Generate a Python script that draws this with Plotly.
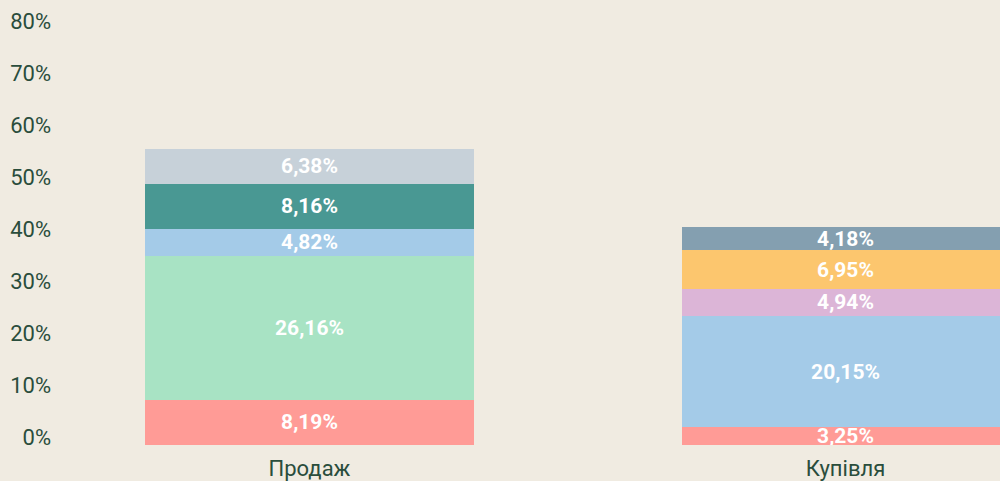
import plotly.graph_objects as go

# categories and stacked segment values (percent)
categories = ["Продаж", "Купівля"]
seg_1 = [8.19, 3.25]
seg_2 = [26.16, None]
seg_3 = [4.82, 20.15]
seg_4 = [8.16, None]
seg_5 = [6.38, None]
seg_6 = [None, 4.94]
seg_7 = [None, 6.95]
seg_8 = [None, 4.18]

tick_vals = [0, 10, 20, 30, 40, 50, 60, 70, 80]
tick_text = ["0%", "10%", "20%", "30%", "40%", "50%", "60%", "70%", "80%"]

series = [
    (seg_1, "#FF9B96"),
    (seg_2, "#A8E3C4"),
    (seg_3, "#A4CBE8"),
    (seg_4, "#499893"),
    (seg_5, "#C7D1D9"),
    (seg_6, "#DCB5D7"),
    (seg_7, "#FCC66E"),
    (seg_8, "#849FB0"),
]

BG = "#F0EBE1"
TXT = "#2A4D3C"
FONT = "Roboto"

fig = go.Figure()
for vals, color in series:
    fig.add_trace(go.Bar(
        x=categories, y=vals,
        width=0.612,
        marker=dict(color=color, line=dict(width=0)),
        texttemplate="%{y:.2f}%",
        textposition="inside",
        insidetextanchor="middle",
        textangle=0,
        constraintext="none",
        textfont=dict(family=FONT, size=21, color="white", weight="bold"),
        cliponaxis=True,
        showlegend=False,
    ))

# invisible trace to keep the label axis alive
fig.add_trace(go.Scatter(x=[categories[0]], y=[0], yaxis="y2",
                         mode="markers", marker=dict(opacity=0),
                         showlegend=False, hoverinfo="skip"))

fig.update_layout(
    width=1000, height=481,
    barmode="stack",
    separators=",.",
    paper_bgcolor=BG, plot_bgcolor=BG,
    margin=dict(l=52, r=0, t=5, b=36),
    font=dict(family=FONT, size=22, color=TXT),
    xaxis=dict(range=[-0.4804, 1.2882], showgrid=False, zeroline=False,
               showline=False, ticks="", ticklabelstandoff=8,
               tickfont=dict(size=22, color=TXT)),
    yaxis=dict(range=[0, 79.78], showgrid=False, zeroline=False,
               showticklabels=False, showline=False, ticks=""),
    yaxis2=dict(overlaying="y", side="left", range=[-1.538, 83.08],
                tickvals=tick_vals, ticktext=tick_text,
                showgrid=False, zeroline=False, showline=False, ticks="",
                tickfont=dict(size=22, color=TXT)),
)

fig.write_html("out.html", config={"displayModeBar": False},
               post_script="document.body.style.margin='0';")
